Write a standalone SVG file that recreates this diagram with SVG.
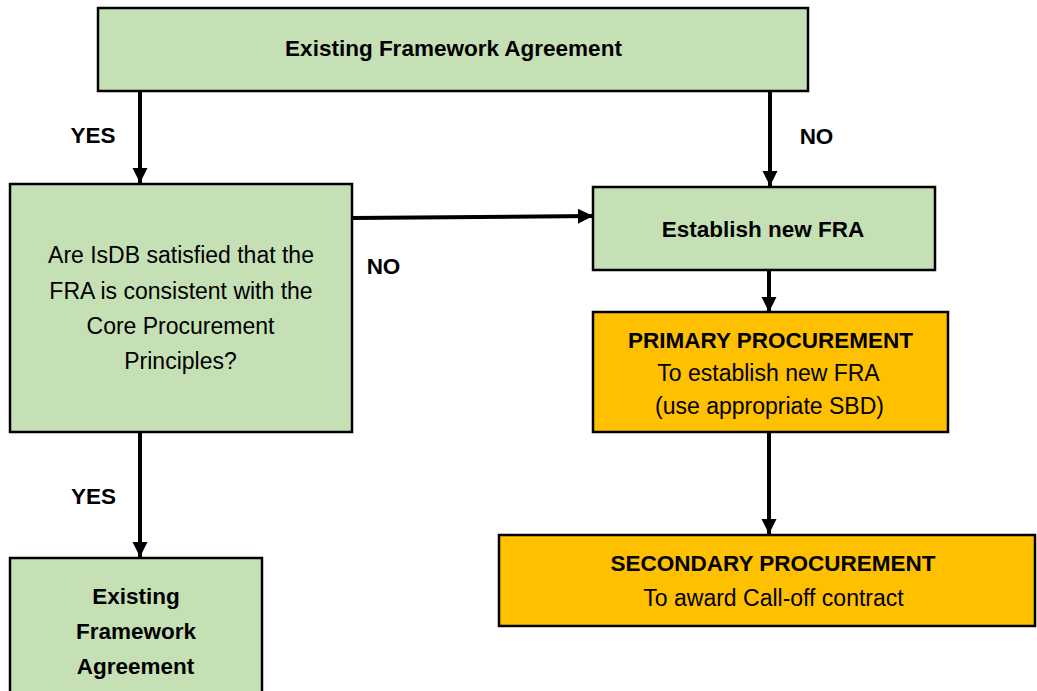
<svg xmlns="http://www.w3.org/2000/svg" width="1037" height="691" viewBox="0 0 1037 691">
<style>
.g{fill:#C5E0B4;stroke:#000;stroke-width:2.5}
.o{fill:#FFC000;stroke:#000;stroke-width:2.5}
text{font-family:"Liberation Sans",Arial,sans-serif;font-size:23px;fill:#000;text-anchor:middle}
.b{font-weight:bold;font-size:22.5px}
.c{stroke:#000;stroke-width:4;fill:none;marker-end:url(#ah)}
</style>
<defs>
<marker id="ah" viewBox="0 0 10 10" refX="10" refY="5" markerWidth="3.8" markerHeight="3.8" markerUnits="strokeWidth" orient="auto">
<path d="M0,0 L10,5 L0,10 z" fill="#000"/>
</marker>
</defs>
<g id="connectors">
<line class="c" x1="140" y1="92" x2="140" y2="183"/>
<line class="c" x1="770" y1="92" x2="770" y2="186"/>
<line class="c" x1="353" y1="218" x2="593" y2="216"/>
<line class="c" x1="769" y1="271" x2="769" y2="312"/>
<line class="c" x1="769" y1="433" x2="769" y2="534"/>
<line class="c" x1="140" y1="433" x2="140" y2="557"/>
<text class="b" x="93" y="143">YES</text>
<text class="b" x="816.5" y="144">NO</text>
<text class="b" x="383.5" y="274">NO</text>
<text class="b" x="93.5" y="504">YES</text>
</g>
<g id="top">
<rect class="g" x="98" y="8" width="710" height="83"/>
<text class="b" x="453.5" y="56">Existing Framework Agreement</text>
</g>
<g id="decision">
<rect class="g" x="10" y="184" width="342" height="248"/>
<text x="181" y="263">Are IsDB satisfied that the</text>
<text x="181" y="299">FRA is consistent with the</text>
<text x="180.5" y="334">Core Procurement</text>
<text x="180.5" y="369">Principles?</text>
</g>
<g id="existing">
<rect class="g" x="10" y="558" width="252" height="140"/>
<text class="b" x="136" y="604">Existing</text>
<text class="b" x="136" y="639">Framework</text>
<text class="b" x="135.5" y="674">Agreement</text>
</g>
<g id="establish">
<rect class="g" x="593" y="187" width="342" height="83"/>
<text class="b" x="763" y="237">Establish new FRA</text>
</g>
<g id="primary">
<rect class="o" x="593" y="312" width="355" height="120"/>
<text class="b" x="770.5" y="348">PRIMARY PROCUREMENT</text>
<text x="768.5" y="381">To establish new FRA</text>
<text x="769.5" y="414">(use appropriate SBD)</text>
</g>
<g id="secondary">
<rect class="o" x="499" y="535" width="536" height="91"/>
<text class="b" x="773" y="571">SECONDARY PROCUREMENT</text>
<text x="773.5" y="606">To award Call-off contract</text>
</g>
</svg>
